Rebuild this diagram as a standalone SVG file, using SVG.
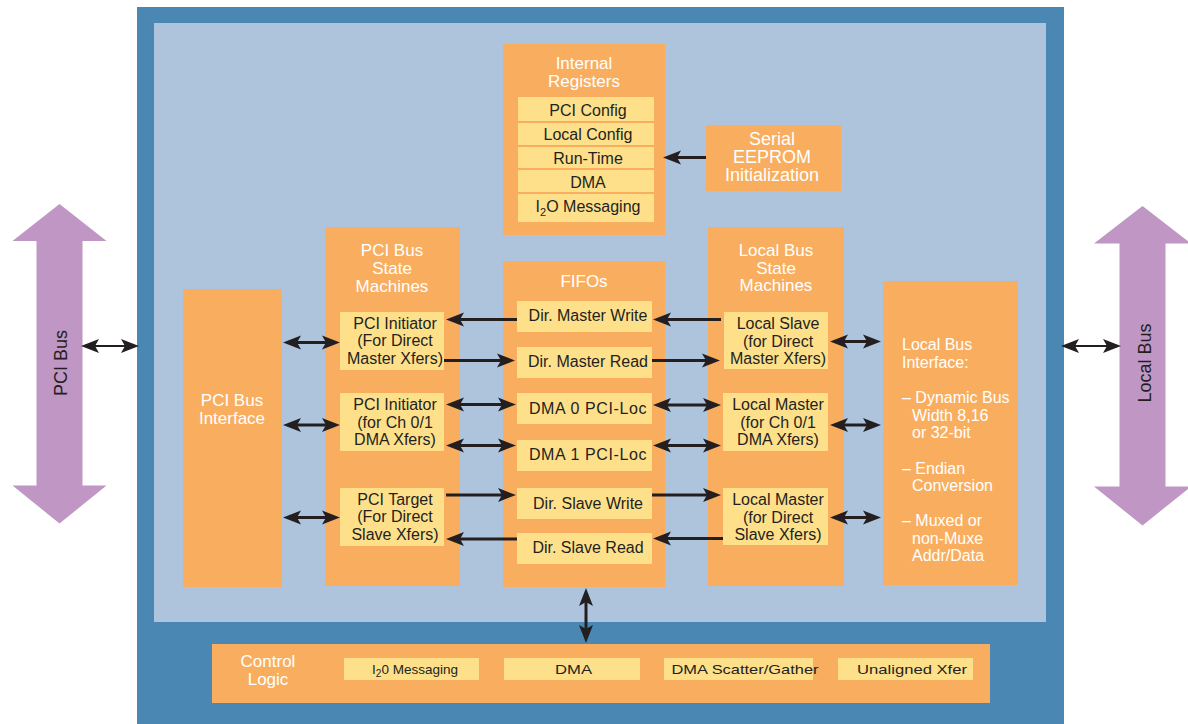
<svg xmlns="http://www.w3.org/2000/svg" width="1188" height="724" viewBox="0 0 1188 724">
<defs>
<style>
text{font-family:"Liberation Sans",Arial,sans-serif}
.org{fill:#f9ae5f}
.yel{fill:#fee08b}
.wt{fill:#ffffff;font-size:17px;text-anchor:middle}
.wl{fill:#ffffff;font-size:16px}
.dk{fill:#231f20;font-size:16px;text-anchor:middle}
.sm{fill:#231f20;font-size:13.5px;text-anchor:middle}
.bus{fill:#231f20;font-size:18px;text-anchor:middle}
.ln{stroke:#231f20;stroke-width:3;fill:none}
.ln2{stroke:#231f20;stroke-width:2;fill:none}
.sa{marker-end:url(#ah)}
.da{marker-start:url(#ah);marker-end:url(#ah)}
</style>
<marker id="ah" viewBox="0 0 18 16" refX="10" refY="8" markerWidth="18" markerHeight="16" markerUnits="userSpaceOnUse" orient="auto-start-reverse">
<path d="M18,8 L0,1 L4,8 L0,15 Z" fill="#231f20"/>
</marker>
</defs>

<g id="chip">
<rect x="137" y="7" width="927" height="717" fill="#4a87b2"/>
<rect x="154" y="23" width="892" height="599" fill="#aec4dc"/>
</g>

<g id="pci-bus">
<polygon points="59.5,204 106.5,241 82.5,241 82.5,485.5 106.5,485.5 59.5,523.5 12.5,485.5 36.5,485.5 36.5,241 12.5,241" fill="#bf96c4"/>
<text class="bus" transform="translate(67,363) rotate(-90)">PCI Bus</text>
</g>

<g id="local-bus">
<polygon points="1142.5,206 1191,243.5 1165.5,243.5 1165.5,486.5 1191,486.5 1142.5,525.5 1094,486.5 1119.5,486.5 1119.5,243.5 1094,243.5" fill="#bf96c4"/>
<text class="bus" transform="translate(1150.5,363) rotate(-90)">Local Bus</text>
</g>

<g id="internal-registers">
<rect class="org" x="503" y="44" width="162" height="191"/>
<text class="wt" x="584" y="69">Internal</text>
<text class="wt" x="584" y="87">Registers</text>
<rect class="yel" x="518" y="97" width="136" height="24"/>
<rect class="yel" x="518" y="123" width="136" height="22"/>
<rect class="yel" x="518" y="147" width="136" height="21"/>
<rect class="yel" x="518" y="170" width="136" height="22"/>
<rect class="yel" x="518" y="194" width="136" height="28"/>
<text class="dk" x="588" y="116">PCI Config</text>
<text class="dk" x="588" y="140">Local Config</text>
<text class="dk" x="588" y="164">Run-Time</text>
<text class="dk" x="588" y="188">DMA</text>
<text class="dk" x="588" y="212">I<tspan font-size="11" dy="4">2</tspan><tspan dy="-4">O Messaging</tspan></text>
</g>

<g id="serial-eeprom">
<rect class="org" x="706" y="125" width="135" height="66"/>
<text class="wt" x="772" y="145" style="font-size:18px">Serial</text>
<text class="wt" x="772" y="163" style="font-size:18px">EEPROM</text>
<text class="wt" x="772" y="181" style="font-size:18px">Initialization</text>
</g>

<g id="pci-bus-interface">
<rect class="org" x="183" y="289" width="99" height="298"/>
<text class="wt" x="232" y="406">PCI Bus</text>
<text class="wt" x="232" y="424">Interface</text>
</g>

<g id="pci-state-machines">
<rect class="org" x="325" y="227" width="135" height="359"/>
<text class="wt" x="392" y="256">PCI Bus</text>
<text class="wt" x="392" y="274">State</text>
<text class="wt" x="392" y="292">Machines</text>
<rect class="yel" x="340" y="312" width="104" height="58"/>
<text class="dk" x="395" y="328.5">PCI Initiator</text>
<text class="dk" x="395" y="346">(For Direct</text>
<text class="dk" x="395" y="363.5">Master Xfers)</text>
<rect class="yel" x="340" y="393" width="104" height="58"/>
<text class="dk" x="395" y="410">PCI Initiator</text>
<text class="dk" x="395" y="427.5">(for Ch 0/1</text>
<text class="dk" x="395" y="445">DMA Xfers)</text>
<rect class="yel" x="340" y="488" width="104" height="58"/>
<text class="dk" x="395" y="504.5">PCI Target</text>
<text class="dk" x="395" y="522">(For Direct</text>
<text class="dk" x="395" y="539.5">Slave Xfers)</text>
</g>

<g id="fifos">
<rect class="org" x="503" y="261" width="162" height="326"/>
<text class="wt" x="584" y="287">FIFOs</text>
<rect class="yel" x="517" y="301" width="135" height="31"/>
<rect class="yel" x="517" y="347" width="135" height="31"/>
<rect class="yel" x="517" y="393" width="135" height="31"/>
<rect class="yel" x="517" y="440" width="135" height="31"/>
<rect class="yel" x="517" y="488" width="135" height="31"/>
<rect class="yel" x="517" y="533" width="135" height="31"/>
<text class="dk" x="588" y="321">Dir. Master Write</text>
<text class="dk" x="588" y="367">Dir. Master Read</text>
<text class="dk" x="588" y="413.5" letter-spacing="0.6">DMA 0 PCI-Loc</text>
<text class="dk" x="588" y="460" letter-spacing="0.6">DMA 1 PCI-Loc</text>
<text class="dk" x="588" y="508.5">Dir. Slave Write</text>
<text class="dk" x="588" y="553">Dir. Slave Read</text>
</g>

<g id="local-state-machines">
<rect class="org" x="708" y="227" width="136" height="359"/>
<text class="wt" x="776" y="256">Local Bus</text>
<text class="wt" x="776" y="274">State</text>
<text class="wt" x="776" y="291">Machines</text>
<rect class="yel" x="724" y="312" width="104" height="57"/>
<text class="dk" x="778" y="328.5">Local Slave</text>
<text class="dk" x="778" y="346.5">(for Direct</text>
<text class="dk" x="778" y="363.5">Master Xfers)</text>
<rect class="yel" x="723" y="393" width="105" height="58"/>
<text class="dk" x="778" y="409.5">Local Master</text>
<text class="dk" x="778" y="427.5">(for Ch 0/1</text>
<text class="dk" x="778" y="444.5">DMA Xfers)</text>
<rect class="yel" x="723" y="488" width="105" height="57"/>
<text class="dk" x="778" y="504.5">Local Master</text>
<text class="dk" x="778" y="522.5">(for Direct</text>
<text class="dk" x="778" y="539.5">Slave Xfers)</text>
</g>

<g id="local-bus-interface">
<rect class="org" x="883" y="281" width="135" height="304"/>
<text class="wl" x="902" y="350">Local Bus</text>
<text class="wl" x="902" y="367.5">Interface:</text>
<text class="wl" x="902" y="403">– Dynamic Bus</text>
<text class="wl" x="912" y="420.5">Width 8,16</text>
<text class="wl" x="912" y="438">or 32-bit</text>
<text class="wl" x="902" y="473.5">– Endian</text>
<text class="wl" x="912" y="491">Conversion</text>
<text class="wl" x="902" y="526">– Muxed or</text>
<text class="wl" x="912" y="543.5">non-Muxe</text>
<text class="wl" x="912" y="561">Addr/Data</text>
</g>

<g id="control-logic">
<rect class="org" x="212" y="644" width="778" height="59"/>
<text class="wt" x="268" y="667">Control</text>
<text class="wt" x="268" y="684.5">Logic</text>
<rect class="yel" x="344" y="658" width="135" height="22"/>
<rect class="yel" x="504" y="658" width="136" height="22"/>
<rect class="yel" x="664" y="658" width="149" height="22"/>
<rect class="yel" x="838" y="658" width="135" height="22"/>
<text class="sm" x="415" y="673.5">I<tspan font-size="10" dy="3">2</tspan><tspan dy="-3">0 Messaging</tspan></text>
<text class="sm" x="573.5" y="673.5" textLength="37" lengthAdjust="spacingAndGlyphs">DMA</text>
<text class="sm" x="745" y="673.5" textLength="147" lengthAdjust="spacingAndGlyphs">DMA Scatter/Gather</text>
<text class="sm" x="912" y="673.5" textLength="110" lengthAdjust="spacingAndGlyphs">Unaligned Xfer</text>
</g>

<g id="connectors">
<line class="ln2 da" x1="89" y1="346" x2="131" y2="346"/>
<line class="ln2 da" x1="1069" y1="346" x2="1113" y2="346"/>
<line class="ln sa" x1="706" y1="157.5" x2="671" y2="157.5"/>
<line class="ln da" x1="291" y1="342.5" x2="332" y2="342.5"/>
<line class="ln da" x1="291" y1="425" x2="332" y2="425"/>
<line class="ln da" x1="291" y1="517.5" x2="332" y2="517.5"/>
<line class="ln sa" x1="517" y1="319.5" x2="454" y2="319.5"/>
<line class="ln sa" x1="444" y1="360.5" x2="507" y2="360.5"/>
<line class="ln da" x1="454" y1="404.5" x2="508" y2="404.5"/>
<line class="ln da" x1="454" y1="445.5" x2="508" y2="445.5"/>
<line class="ln sa" x1="446" y1="495" x2="508" y2="495"/>
<line class="ln sa" x1="517" y1="539" x2="454" y2="539"/>
<line class="ln sa" x1="721" y1="319.5" x2="661" y2="319.5"/>
<line class="ln sa" x1="652" y1="360.5" x2="712" y2="360.5"/>
<line class="ln da" x1="661" y1="405" x2="713" y2="405"/>
<line class="ln da" x1="661" y1="445.5" x2="713" y2="445.5"/>
<line class="ln sa" x1="652" y1="495" x2="713" y2="495"/>
<line class="ln sa" x1="723" y1="538.5" x2="661" y2="538.5"/>
<line class="ln da" x1="838" y1="341.5" x2="873" y2="341.5"/>
<line class="ln da" x1="838" y1="425" x2="873" y2="425"/>
<line class="ln da" x1="838" y1="517.5" x2="873" y2="517.5"/>
<line class="ln da" x1="586" y1="596" x2="586" y2="635"/>
</g>
</svg>
